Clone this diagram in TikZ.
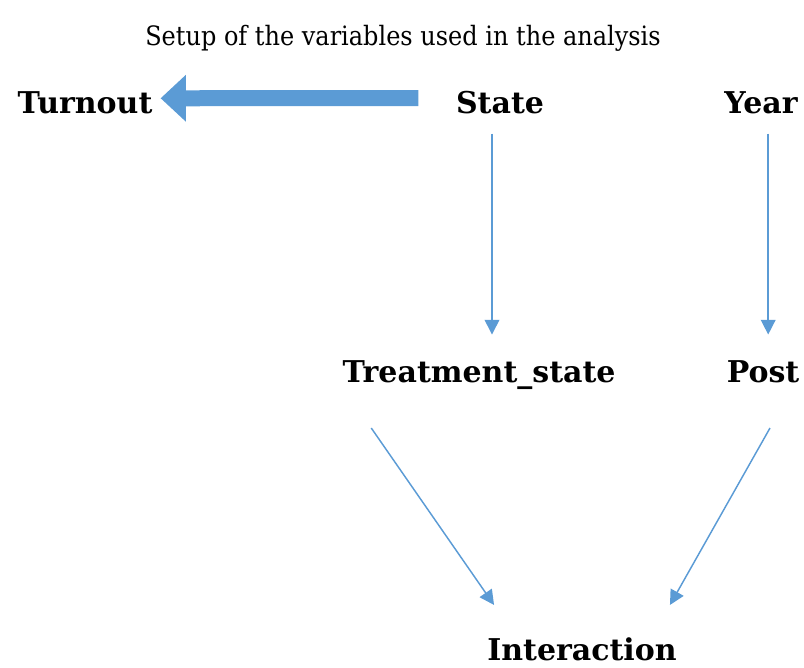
\documentclass[tikz,border=0pt]{standalone}
\usepackage{fontspec}
\setmainfont{DejaVu Serif}
\newfontfamily\titlefont[FakeStretch=0.9]{DejaVu Serif}
\newfontfamily\varfont{DejaVu Serif}
\usetikzlibrary{arrows.meta,calc}
\definecolor{arrowblue}{HTML}{5B9BD5}
\begin{document}
\begin{tikzpicture}[x=0.75pt,y=-0.75pt,
  var/.style={font=\varfont\bfseries\fontsize{22.5}{26}\selectfont, inner sep=0pt, anchor=base},
  link/.style={draw=arrowblue, line width=1.1pt, -{Triangle[width=11pt,length=11pt]}},
  bigarrow/.style={draw=arrowblue, line width=12pt, -{Triangle[width=34pt,length=19pt]}}]
\useasboundingbox (0,0) rectangle (804,668);

% heading
\node[inner sep=0pt, anchor=base, font=\titlefont\fontsize{20}{24}\selectfont] (title) at (403,45)
  {Setup of the variables used in the analysis};

% variables
\node[var] (turnout) at (85,113) {Turnout};
\node[var] (state)   at (500,113) {State};
\node[var] (year)    at (761,113) {Year};
\node[var] (treat)   at (479,382) {Treatment\_state};
\node[var] (post)    at (763,382) {Post};
\node[var] (inter)   at (582,660) {Interaction};

% wide arrow from State to Turnout
\draw[bigarrow, shorten <=28pt, shorten >=6pt]
  ($(state.west)+(0,-4)$) -- ($(turnout.east)+(0,-4)$);

% thin arrows
\draw[link, shorten <=15pt, shorten >=19pt]
  ([xshift=-6pt]state.south) -- ([xshift=-6pt]state.south |- treat.north);
\draw[link, shorten <=15pt, shorten >=19pt]
  ([xshift=5.4pt]year.south) -- ([xshift=5.4pt]year.south |- post.north);
\draw[link] ($(treat.base west)+(29,46)$) -- ($(inter.north west)+(7,-32)$);
\draw[link] ($(post.base)+(7,46)$) -- ($(inter.north east)+(-7,-32)$);
\end{tikzpicture}
\end{document}
